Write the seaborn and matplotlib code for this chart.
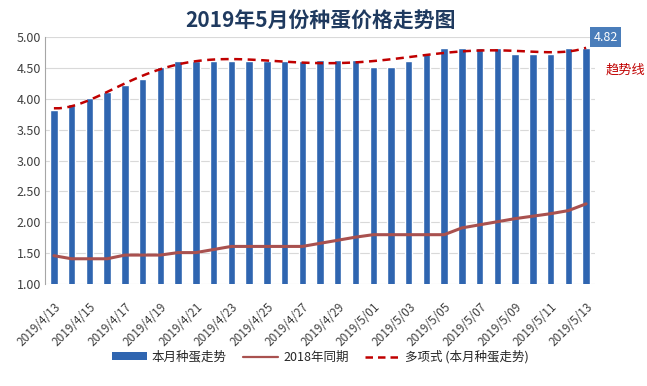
import numpy as np
import pandas as pd
import matplotlib
matplotlib.use("Agg")
import matplotlib.pyplot as plt
import seaborn as sns
from matplotlib.lines import Line2D
from matplotlib.patches import Patch

dates = ["2019/4/13", "2019/4/14", "2019/4/15", "2019/4/16", "2019/4/17", "2019/4/18",
         "2019/4/19", "2019/4/20", "2019/4/21", "2019/4/22", "2019/4/23", "2019/4/24",
         "2019/4/25", "2019/4/26", "2019/4/27", "2019/4/28", "2019/4/29", "2019/4/30",
         "2019/5/01", "2019/5/02", "2019/5/03", "2019/5/04", "2019/5/05", "2019/5/06",
         "2019/5/07", "2019/5/08", "2019/5/09", "2019/5/10", "2019/5/11", "2019/5/12",
         "2019/5/13"]
price_2019 = [3.82, 3.91, 4.01, 4.11, 4.22, 4.32, 4.51, 4.61, 4.61, 4.61, 4.61, 4.61,
              4.62, 4.62, 4.62, 4.63, 4.63, 4.63, 4.52, 4.52, 4.62, 4.72, 4.82, 4.82,
              4.82, 4.82, 4.72, 4.72, 4.72, 4.82, 4.82]
price_2018 = [1.46, 1.41, 1.41, 1.41, 1.47, 1.47, 1.47, 1.51, 1.51, 1.56, 1.61, 1.61,
              1.61, 1.61, 1.61, 1.66, 1.71, 1.76, 1.80, 1.80, 1.80, 1.80, 1.80, 1.91,
              1.96, 2.01, 2.06, 2.10, 2.14, 2.19, 2.30]
yticks = [1.00, 1.50, 2.00, 2.50, 3.00, 3.50, 4.00, 4.50, 5.00]

title = "2019年5月份种蛋价格走势图"
label_bar = "本月种蛋走势"
label_2018 = "2018年同期"
label_trend = "多项式 (本月种蛋走势)"

BAR = "#2F65B0"
L2018 = "#A9514F"
TREND = "#C00000"

sns.set_theme(style="white")
plt.rcParams["font.family"] = ["Noto Sans CJK SC", "DejaVu Sans"]

df = pd.DataFrame({"date": dates, "p2019": price_2019, "p2018": price_2018,
                   "idx": np.arange(len(dates))})

fig = plt.figure(figsize=(6.47, 3.86), dpi=100)
ax = fig.add_axes([0.0696, 0.264, 0.85, 0.640])

sns.barplot(data=df, x="date", y="p2019", color=BAR, width=0.42, ax=ax,
            saturation=1, zorder=2)
sns.lineplot(data=df, x="idx", y="p2018", color=L2018, linewidth=2.2, ax=ax, zorder=3)
sns.regplot(data=df, x="idx", y="p2019", order=6, ci=None, scatter=False, ax=ax,
            line_kws=dict(color=TREND, linewidth=1.8, linestyle=(0, (3.2, 2.2)), zorder=4))

ax.set_ylim(1.0, 5.0)
ax.set_xlim(-0.5, len(dates) - 0.5)
ax.set_yticks(yticks)
ax.set_yticklabels([f"{v:.2f}" for v in yticks], fontsize=9, color="#404040")
ax.yaxis.grid(True, color="#D9D9D9", linewidth=0.8, zorder=0)
ax.set_axisbelow(True)
ax.set_xticks(range(0, len(dates), 2))
ax.set_xticklabels(dates[::2], rotation=45, ha="right", va="top",
                   rotation_mode="anchor", fontsize=8.5, color="#404040")
ax.tick_params(axis="both", length=0, pad=3)
ax.tick_params(axis="x", pad=12)
ax.set_xlabel("")
ax.set_ylabel("")
for s in ["top", "right", "bottom"]:
    ax.spines[s].set_visible(False)
ax.spines["left"].set_color("#A6A6A6")
ax.spines["left"].set_linewidth(0.8)

fig.text(0.495, 0.945, title, ha="center", va="center", fontsize=15,
         fontweight="bold", color="#1F3A5F")

last = len(dates) - 1
ax.annotate(f"{price_2019[last]:.2f}", xy=(last, price_2019[last]), xytext=(14, 8),
            textcoords="offset points", ha="center", va="center", fontsize=9,
            color="white",
            bbox=dict(boxstyle="square,pad=0.3", fc="#4A7DBA", ec="none"),
            annotation_clip=False)
fig.text(0.966, 0.818, "趋势线", ha="center", va="center", fontsize=9.5, color=TREND)

handles = [Patch(facecolor=BAR, edgecolor="none"),
           Line2D([0], [0], color=L2018, linewidth=1.6),
           Line2D([0], [0], color=TREND, linewidth=1.8, linestyle=(0, (3, 2)))]
fig.legend(handles, [label_bar, label_2018, label_trend], loc="center",
           bbox_to_anchor=(0.495, 0.075), ncol=3, frameon=False, fontsize=9,
           handlelength=2.8, handleheight=0.6, columnspacing=1.3, handletextpad=0.4)

fig.savefig("out.png", dpi=100)
